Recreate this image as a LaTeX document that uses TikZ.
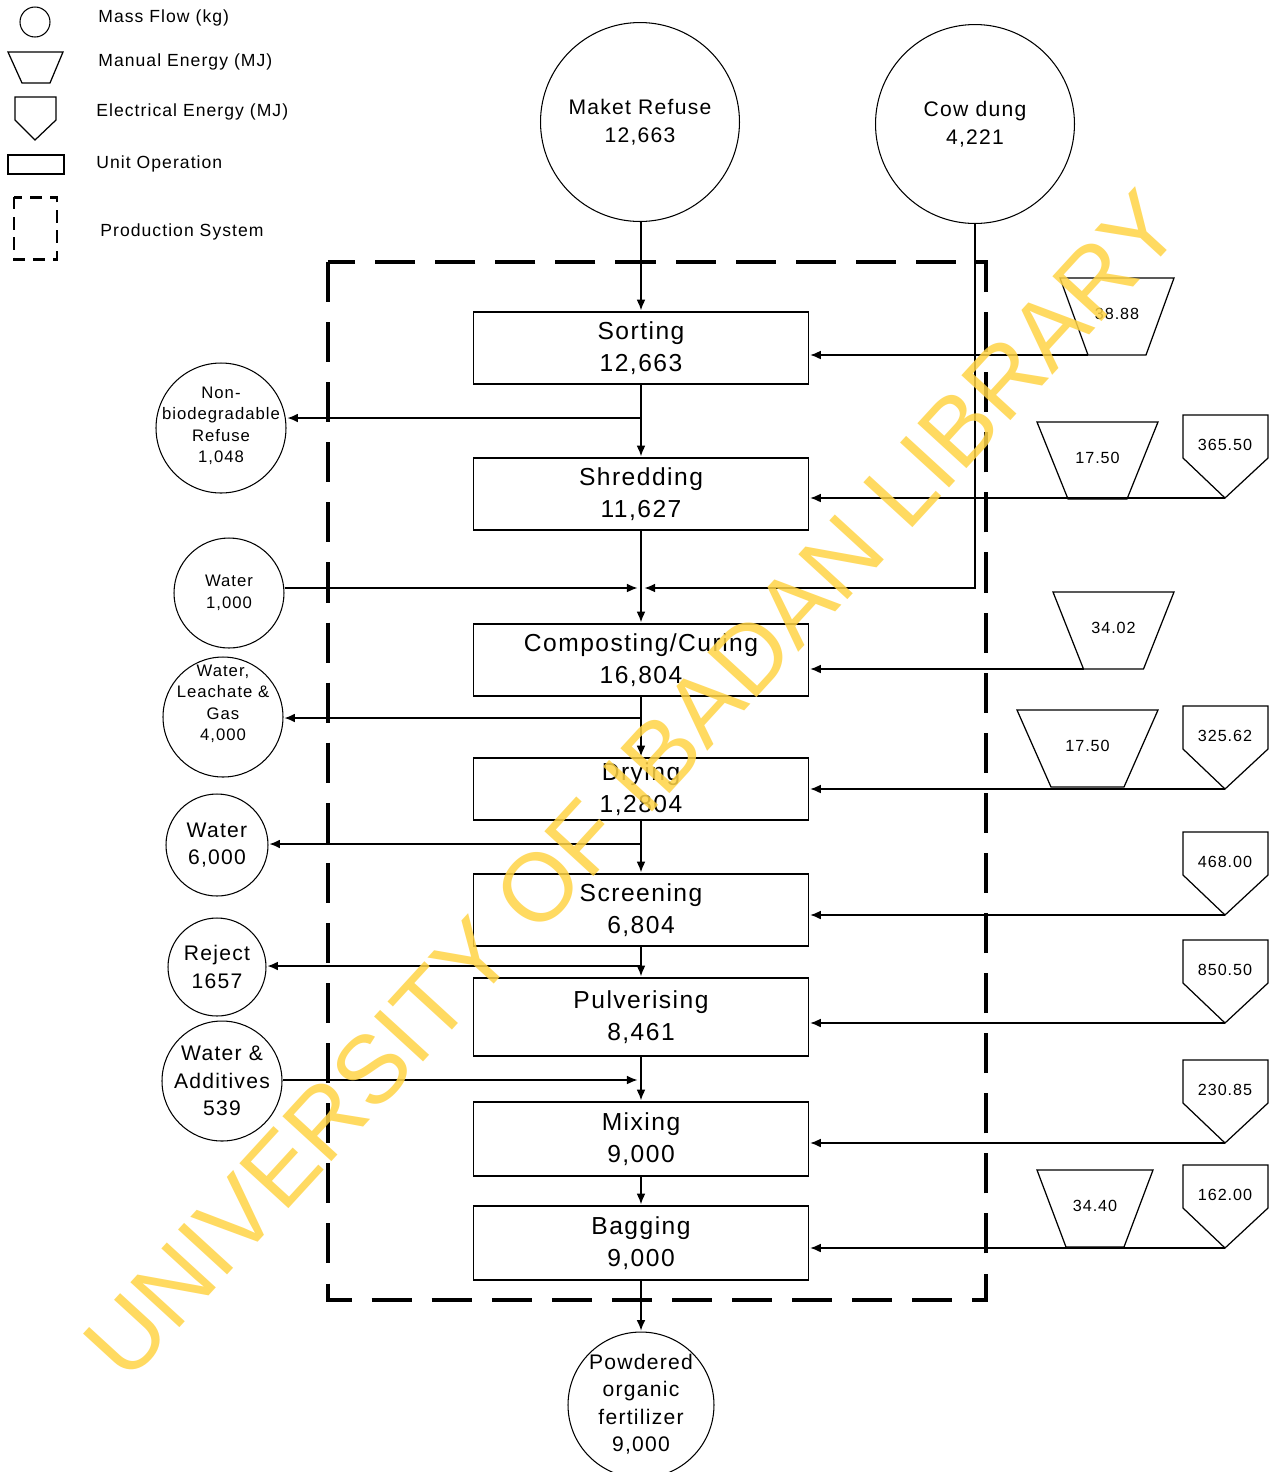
\documentclass[tikz,border=0pt]{standalone}
\usepackage{fontspec}
\setmainfont[LetterSpace=6]{Liberation Sans}
\newfontfamily\plainfont{Liberation Sans}
\usetikzlibrary{arrows.meta,calc}
\definecolor{wm}{RGB}{255,212,70}
\tikzset{
  unit/.style={draw, line width=1pt, minimum width=6.7cm, inner sep=0pt, align=center, font=\fontsize{14}{18}\selectfont},
  mass/.style={draw, circle, line width=0.6pt, inner sep=0pt, align=center},
  small/.style={font=\fontsize{9.5}{12.2}\selectfont},
  big/.style={font=\fontsize{12}{15.6}\selectfont},
  arr/.style={line width=0.8pt, -{Latex[length=6pt,width=5pt]}, shorten >=0.5pt},
  en/.style={line width=0.7pt},
  enlbl/.style={font=\fontsize{9.2}{11}\selectfont, inner sep=0pt},
  leg/.style={anchor=west, font=\fontsize{10}{11}\selectfont, inner sep=0pt},
  frame/.style={line width=2.8pt, dash pattern=on 22.8pt off 11.4pt}
}
\newcommand\mtrap[6]{%
  \draw[en] (#2-#4,#3) -- (#2+#4,#3) -- (#2+#5,#3+77) -- (#2-#5,#3+77) -- cycle;
  \coordinate (#1) at (#2-#5,#3+77);
  \node[enlbl] at (#2,#3+36) {#6};}
\newcommand\epent[3]{%
  \draw[en] (1183,#2) -- (1268,#2) -- (1268,#2+43) -- (1225,#2+83) -- (1183,#2+43) -- cycle;
  \coordinate (#1) at (1225,#2+83);
  \node[enlbl] at (1225,#2+30) {#3};}
\begin{document}
\begin{tikzpicture}[x=0.02cm,y=-0.02cm]
\fill[white] (0,0) rectangle (1270,1472);
\useasboundingbox (0,0) rectangle (1270,1472);

% ---------- legend ----------
\node[mass, minimum size=0.6cm] (lgc) at (35,22) {};
\draw[en] (8,52) -- (63,52) -- (50,83) -- (22,83) -- cycle;
\draw[en] (15,97) -- (56,97) -- (56,120) -- (35,140) -- (15,120) -- cycle;
\draw[line width=0.9pt] (8,155) rectangle (64,174);
\draw[line width=1.7pt, dash pattern=on 7pt off 4.5pt] (14,197) rectangle (57,259);
\node[leg] (l1) at (98,18) {Mass Flow (kg)};
\node[leg] (l2) at (98,62) {Manual Energy (MJ)};
\node[leg] (l3) at (96,112) {Electrical Energy (MJ)};
\node[leg] (l4) at (96,164) {Unit Operation};
\node[leg] (l5) at (100,232) {Production System};

% ---------- production system frame ----------
\draw[frame] (328,262) rectangle (986,1300);

% ---------- inputs at top ----------
\node[mass, big, minimum size=3.98cm] (maket) at (640,122) {Maket Refuse\\12,663};
\node[mass, big, minimum size=3.98cm] (cow) at (975,124) {Cow dung\\4,221};

% ---------- unit operations ----------
\node[unit, minimum height=1.44cm] (sort) at (641,348) {Sorting\\12,663};
\node[unit, minimum height=1.44cm] (shred) at (641,494) {Shredding\\11,627};
\node[unit, minimum height=1.44cm] (comp) at (641,660) {Composting/Curing\\16,804};
\node[unit, minimum height=1.24cm] (dry) at (641,789) {Drying\\1,2804};
\node[unit, minimum height=1.44cm] (screen) at (641,910) {Screening\\6,804};
\node[unit, minimum height=1.56cm] (pulv) at (641,1017) {Pulverising\\8,461};
\node[unit, minimum height=1.48cm] (mix) at (641,1139) {Mixing\\9,000};
\node[unit, minimum height=1.48cm] (bag) at (641,1243) {Bagging\\9,000};

% ---------- side mass flows ----------
\node[mass, minimum size=2.6cm] (nonbio) at (221,428) {};
\node[small, align=center] (nonbiotxt) at (221,426) {Non-\\biodegradable\\Refuse\\1,048};
\node[mass, small, minimum size=2.2cm] (water1) at (229,593) {Water\\1,000};
\node[mass, minimum size=2.4cm] (leach) at (223,717) {};
\node[small, align=center] (leachtxt) at (223,704) {Water,\\Leachate \&\\Gas\\4,000};
\node[mass, big, minimum size=2.04cm] (water6) at (217,845) {Water\\6,000};
\node[mass, big, minimum size=1.96cm] (reject) at (217,967) {Reject\\1657};
\node[mass, big, minimum size=2.4cm] (addit) at (222,1081) {Water \&\\Additives\\539};
\node[mass, minimum size=2.92cm] (fert) at (641,1405) {};
\node[big, align=center] (ferttxt) at (641,1404) {Powdered\\organic\\fertilizer\\9,000};

% ---------- main flow ----------
\draw[arr] (maket.south -| sort.north) -- (sort.north);
\draw[arr] (sort.south) -- (shred.north);
\draw[arr] (shred.south) -- (comp.north);
\draw[arr] (comp.south) -- (dry.north);
\draw[arr] (dry.south) -- (screen.north);
\draw[arr] (screen.south) -- (pulv.north);
\draw[arr] (pulv.south) -- (mix.north);
\draw[arr] (mix.south) -- (bag.north);
\draw[arr] (bag.south) -- (bag.south |- fert.north);

% ---------- branches ----------
\coordinate (b1) at (641,418);
\draw[arr] (b1) -- (b1 -| nonbio.east);
\coordinate (j2) at (641,588);
\draw[arr, shorten >=2pt] (j2 -| water1.east) -- (j2);
\draw[arr, shorten >=2pt] (cow.south) |- (j2);
\coordinate (b3) at (641,718);
\draw[arr] (b3) -- (b3 -| leach.east);
\coordinate (b4) at (641,844);
\draw[arr] (b4) -- (b4 -| water6.east);
\coordinate (b5) at (641,966);
\draw[arr] (b5) -- (b5 -| reject.east);
\coordinate (j6) at (641,1080);
\draw[arr, shorten >=2pt] (j6 -| addit.east) -- (j6);

% ---------- energy inputs ----------
\mtrap{t1}{1117}{278}{57}{29}{38.88}
\draw[arr] (t1) -- (t1 -| sort.east);
\mtrap{t2}{1097.5}{422}{60.5}{29.5}{17.50}
\epent{p2}{415}{365.50}
\draw[arr] (p2) -- (p2 -| shred.east);
\mtrap{t3}{1113.5}{592}{60.5}{30}{34.02}
\draw[arr] (t3) -- (t3 -| comp.east);
\mtrap{t4}{1087.5}{710}{70.5}{36.5}{17.50}
\epent{p4}{706}{325.62}
\draw[arr] (p4) -- (p4 -| dry.east);
\epent{p5}{832}{468.00}
\draw[arr] (p5) -- (p5 -| screen.east);
\epent{p6}{940}{850.50}
\draw[arr] (p6) -- (p6 -| pulv.east);
\epent{p7}{1060}{230.85}
\draw[arr] (p7) -- (p7 -| mix.east);
\mtrap{t8}{1095}{1170}{58}{29}{34.40}
\epent{p8}{1165}{162.00}
\draw[arr] (p8) -- (p8 -| bag.east);

% ---------- watermark ----------
\node[rotate=47.5, text=wm, opacity=0.85, font=\plainfont\fontsize{55}{55}\selectfont, inner sep=0pt] (wmark) at (632,785) {UNIVERSITY OF IBADAN LIBRARY};
\end{tikzpicture}
\end{document}
